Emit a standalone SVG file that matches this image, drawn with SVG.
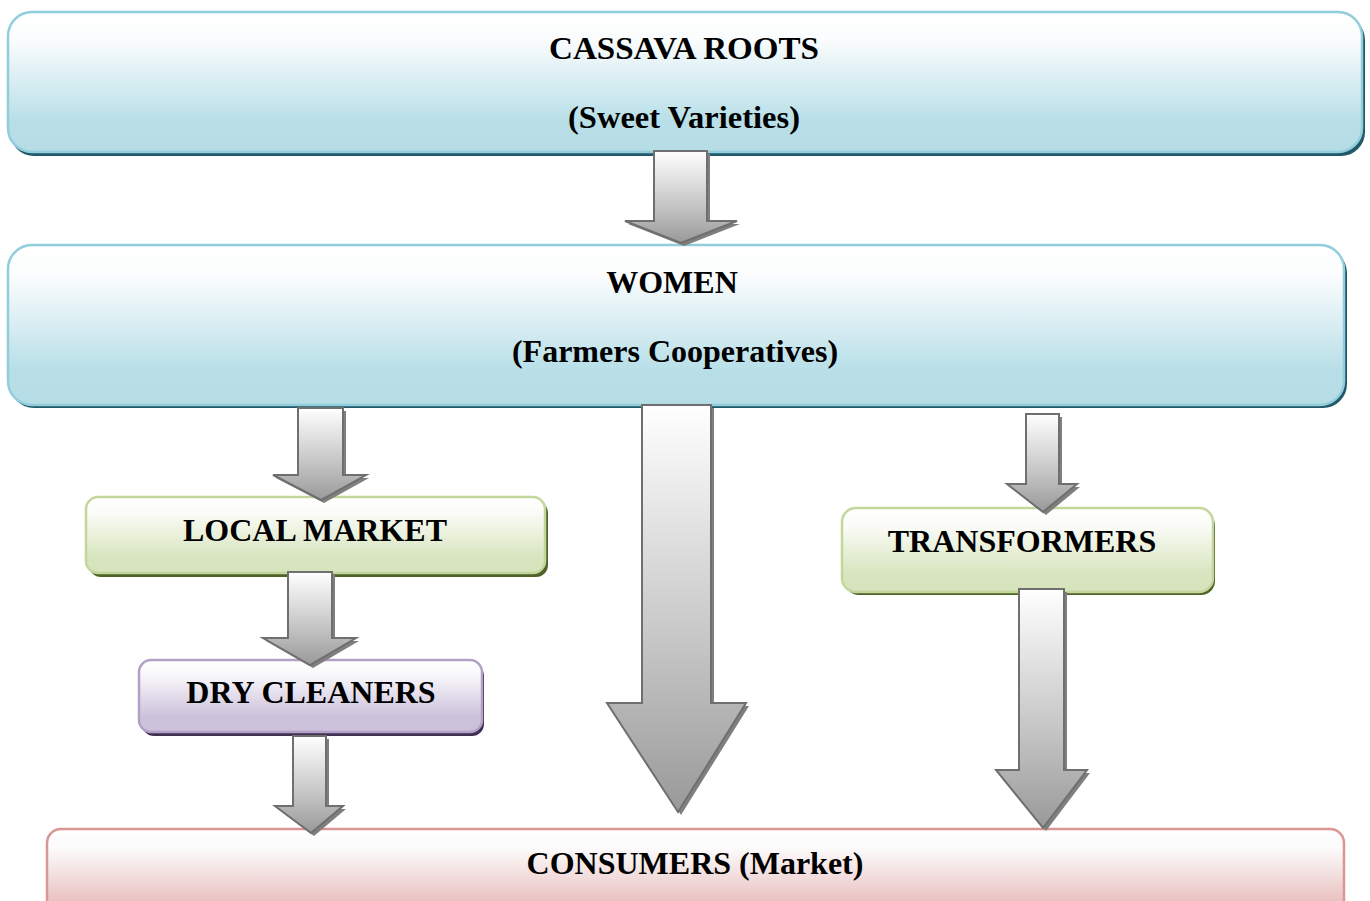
<svg xmlns="http://www.w3.org/2000/svg" width="1370" height="901" viewBox="0 0 1370 901">
<defs>
<linearGradient id="gBlue" x1="0" y1="0" x2="0" y2="1">
<stop offset="0" stop-color="#ffffff"/><stop offset="0.2" stop-color="#fafcfd"/><stop offset="0.78" stop-color="#b8dfe8"/><stop offset="1" stop-color="#b6dde6"/>
</linearGradient>
<linearGradient id="gGreen" x1="0" y1="0" x2="0" y2="1">
<stop offset="0" stop-color="#ffffff"/><stop offset="0.2" stop-color="#fbfcf8"/><stop offset="0.78" stop-color="#d8e5bf"/><stop offset="1" stop-color="#d6e3bc"/>
</linearGradient>
<linearGradient id="gPurple" x1="0" y1="0" x2="0" y2="1">
<stop offset="0" stop-color="#ffffff"/><stop offset="0.2" stop-color="#f9f8fb"/><stop offset="0.78" stop-color="#cdc2db"/><stop offset="1" stop-color="#ccc0da"/>
</linearGradient>
<linearGradient id="gPink" x1="0" y1="0" x2="0" y2="1">
<stop offset="0" stop-color="#ffffff"/><stop offset="0.2" stop-color="#fcfafa"/><stop offset="0.78" stop-color="#e7bcbb"/><stop offset="1" stop-color="#e6b9b8"/>
</linearGradient>
<linearGradient id="gArrow" x1="0" y1="0" x2="0" y2="1">
<stop offset="0" stop-color="#ffffff"/><stop offset="0.6" stop-color="#c4c4c4"/><stop offset="1" stop-color="#999999"/>
</linearGradient>
</defs>
<style>
.t{font-family:"Liberation Serif","Times New Roman",serif;font-weight:bold;font-size:32px;fill:#000;text-anchor:middle}
.blue{fill:url(#gBlue);stroke:#92cddc;stroke-width:2.5}
.blueS{fill:#215968}
.green{fill:url(#gGreen);stroke:#c3d69b;stroke-width:2.5}
.greenS{fill:#4f6228}
.purple{fill:url(#gPurple);stroke:#b2a1c7;stroke-width:2.5}
.purpleS{fill:#3f3151}
.pink{fill:url(#gPink);stroke:#d99694;stroke-width:2.5}
.arr{fill:url(#gArrow);stroke:#6f6f6f;stroke-width:2;stroke-linejoin:miter}
.arrS{fill:#7f7f7f}
</style>
<rect width="1370" height="901" fill="#ffffff"/>
<g id="cassava-roots">
<rect class="blueS" x="10" y="16" width="1355" height="140" rx="24"/>
<rect class="blue" x="8" y="12" width="1354" height="140" rx="24"/>
<text class="t" x="684" y="59" textLength="270" lengthAdjust="spacingAndGlyphs">CASSAVA ROOTS</text>
<text class="t" x="684" y="128" textLength="232" lengthAdjust="spacingAndGlyphs">(Sweet Varieties)</text>
</g>
<g id="women">
<rect class="blueS" x="10" y="249" width="1337" height="159" rx="24"/>
<rect class="blue" x="8" y="245" width="1336" height="160" rx="24"/>
<text class="t" x="672" y="293">WOMEN</text>
<text class="t" x="675" y="362">(Farmers Cooperatives)</text>
</g>
<g id="local-market">
<rect class="greenS" x="89" y="501" width="459" height="76" rx="12"/>
<rect class="green" x="86" y="497" width="459" height="76" rx="12"/>
<text class="t" x="315" y="541">LOCAL MARKET</text>
</g>
<g id="dry-cleaners">
<rect class="purpleS" x="142" y="664" width="342" height="72" rx="12"/>
<rect class="purple" x="139" y="660" width="343" height="72" rx="12"/>
<text class="t" x="311" y="703">DRY CLEANERS</text>
</g>
<g id="transformers">
<rect class="greenS" x="845" y="512" width="370" height="83" rx="14"/>
<rect class="green" x="842" y="508" width="371" height="84" rx="14"/>
<text class="t" x="1022" y="552">TRANSFORMERS</text>
</g>
<g id="consumers">
<rect class="pink" x="47" y="829" width="1297" height="100" rx="14"/>
<text class="t" x="695" y="874">CONSUMERS (Market)</text>
</g>
<g id="connectors">
<g transform="translate(3,3)" class="arrS">
<path d="M654,151 H707 V221 H737 L681,243 L625,221 H654 Z"/>
<path d="M642,405 H711 V703 H746 L678,812 L607,703 H642 Z"/>
<path d="M298,408 H343 V475 H366 L321,500 L273,475 H298 Z"/>
<path d="M288,572 H332 V638 H356 L310,665 L263,638 H288 Z"/>
<path d="M293,736 H326 V806 H343 L311,833 L275,806 H293 Z"/>
<path d="M1026,414 H1059 V484 H1077 L1043,512 L1007,484 H1026 Z"/>
<path d="M1019,589 H1064 V770 H1087 L1043,828 L996,770 H1019 Z"/>
</g>
<path class="arr" d="M654,151 H707 V221 H737 L681,243 L625,221 H654 Z"/>
<path class="arr" d="M642,405 H711 V703 H746 L678,812 L607,703 H642 Z"/>
<path class="arr" d="M298,408 H343 V475 H366 L321,500 L273,475 H298 Z"/>
<path class="arr" d="M288,572 H332 V638 H356 L310,665 L263,638 H288 Z"/>
<path class="arr" d="M293,736 H326 V806 H343 L311,833 L275,806 H293 Z"/>
<path class="arr" d="M1026,414 H1059 V484 H1077 L1043,512 L1007,484 H1026 Z"/>
<path class="arr" d="M1019,589 H1064 V770 H1087 L1043,828 L996,770 H1019 Z"/>
</g>
</svg>
